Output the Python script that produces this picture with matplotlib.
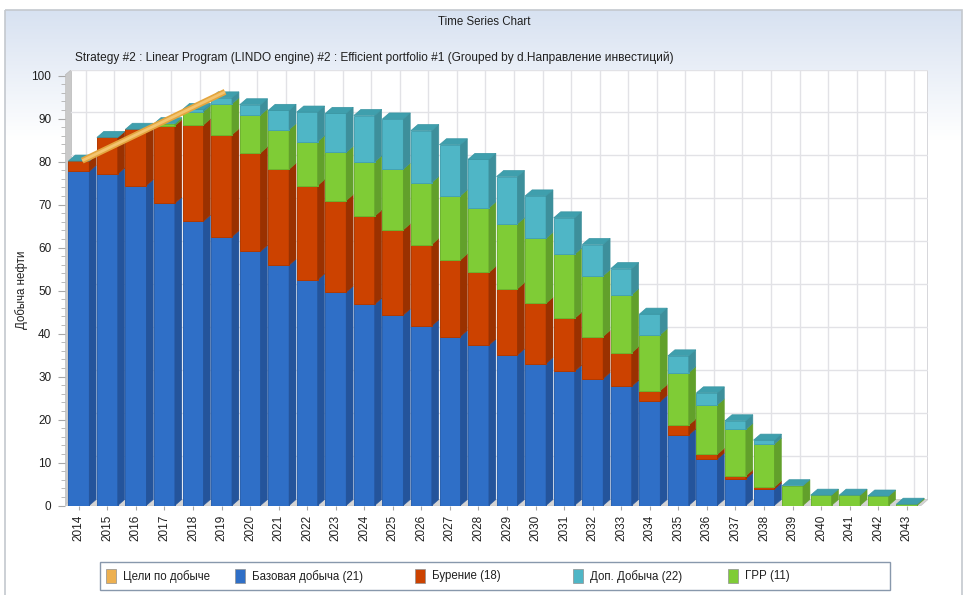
import matplotlib
matplotlib.use('Agg')
import matplotlib.pyplot as plt
from matplotlib.patches import Polygon, Rectangle
import numpy as np

plt.rcParams['font.family'] = ['Liberation Sans', 'DejaVu Sans']

# ---------------- data ----------------
years = list(range(2014, 2044))
base = [77.7, 77.1, 74.4, 70.3, 66.1, 62.5, 59.1, 55.9, 52.5, 49.6, 46.8, 44.3, 41.8, 39.3, 37.3,
        35.0, 33.0, 31.2, 29.5, 27.7, 24.2, 16.4, 10.8, 6.2, 3.8, 0, 0, 0, 0, 0]
drilling = [2.4, 8.5, 13.1, 18.0, 22.4, 23.7, 22.9, 22.3, 21.9, 21.3, 20.5, 19.8, 18.9, 17.8, 16.9,
            15.4, 14.0, 12.3, 9.8, 7.8, 2.5, 2.3, 1.1, 0.7, 0.5, 0, 0, 0, 0, 0]
grr = [0, 0, 0, 0.5, 3.1, 7.2, 8.8, 9.2, 10.2, 11.2, 12.6, 14.1, 14.4, 14.9, 15.0,
       15.1, 15.1, 14.9, 14.1, 13.5, 13.0, 12.2, 11.5, 10.8, 10.0, 4.6, 2.4, 2.4, 2.2, 0.3]
dop = [0, 0, 0, 0, 0.5, 1.4, 2.4, 4.5, 6.9, 9.1, 10.8, 11.7, 12.1, 11.9, 11.3,
       11.0, 9.9, 8.5, 7.3, 6.1, 4.8, 3.9, 2.8, 2.0, 0.9, 0, 0, 0, 0, 0]
goal_years = [2014, 2015, 2016, 2017, 2018, 2019]
goal = [79.5, 82.7, 85.9, 89.1, 92.3, 95.5]

legend_labels = ['Цели по добыче', 'Базовая добыча (21)', 'Бурение (18)', 'Доп. Добыча (22)', 'ГРР (11)']
title = 'Time Series Chart'
subtitle = 'Strategy #2 : Linear Program (LINDO engine) #2 : Efficient portfolio #1 (Grouped by d.Направление инвестиций)'
ylabel = 'Добыча нефти'

# colours: front, side, edge
C_BLUE = ('#2F6FC7', '#24549B', '#2A62B0')
C_RED = ('#CC4200', '#9A3100', '#B33A00')
C_GREEN = ('#7FCC36', '#62A02B', '#6DB42E')
C_CYAN = ('#4FB6C6', '#3D8F9B', '#45A3B2')
CAP = '#3F9FAD'
GOAL = '#EDB050'

W, H = 966, 595
fig = plt.figure(figsize=(W / 100, H / 100), dpi=100)

def fx(px):
    return px / W

def fy(py):
    return 1 - py / H

# ---------------- background panel ----------------
bg = fig.add_axes([0, 0, 1, 1], zorder=-10)
bg.set_xlim(0, W)
bg.set_ylim(H, 0)
bg.axis('off')
rows = np.linspace(0, 1, 300)[:, None]
top_c = np.array([0.845, 0.885, 0.945])
grad = np.clip(rows / 0.22, 0, 1)
img = top_c[None, None, :] * (1 - grad[..., None]) + np.ones(3)[None, None, :] * grad[..., None]
img = np.repeat(img, 2, axis=1)
bg.imshow(img, extent=[5, 962, 595, 10], aspect='auto', interpolation='bilinear')
bg.add_patch(Rectangle((5, 10), 957, 590, fill=False, edgecolor='#C4C8CE', lw=1.2))

# ---------------- main axes ----------------
DX = 0.245
DY = 1.4
BW = 0.73
x = np.arange(len(years))
xl, xr = -0.5, len(years) - 0.5

ax = fig.add_axes([fx(64.5), fy(505.5), fx(928) - fx(64.5), fy(69.5) - fy(505.5)])
ax.set_facecolor('none')
ax.set_xlim(xl, xr + DX)
ax.set_ylim(0, 100 + DY)
for s in ax.spines.values():
    s.set_visible(False)

# back wall
ax.add_patch(Polygon([(xl + DX, DY), (xr + DX, DY), (xr + DX, 100 + DY), (xl + DX, 100 + DY)],
                     closed=True, facecolor='white', edgecolor='none', zorder=0))
ax.plot([xr + DX, xr + DX], [DY, 100 + DY], color='#D0D0D4', lw=1.2, zorder=1)
# left wall
ax.add_patch(Polygon([(xl, 0), (xl + DX, DY), (xl + DX, 100 + DY), (xl, 100)],
                     closed=True, facecolor='#C9C9C9', edgecolor='#B8B8B8', lw=0.5, zorder=1))
# floor
ax.add_patch(Polygon([(xl, 0), (xr, 0), (xr + DX, DY), (xl + DX, DY)],
                     closed=True, facecolor='#D4D4D4', edgecolor='#C4C4C4', lw=0.5, zorder=1))
# grid on back wall
for v in range(10, 101, 10):
    ax.plot([xl + DX, xr + DX], [v + DY, v + DY], color='#E2E2E6', lw=1.0, zorder=1)
for i in x:
    ax.plot([i + DX, i + DX], [DY, 100 + DY], color='#E2E2E6', lw=1.0, zorder=1)

# stacked 3D bars
bottoms = np.zeros(len(years))
for vals, (front, side, edge) in [(base, C_BLUE), (drilling, C_RED), (grr, C_GREEN), (dop, C_CYAN)]:
    vals = np.array(vals, dtype=float)
    m = vals > 0
    ax.bar(x[m], vals[m], BW, bottom=bottoms[m], color=front, edgecolor=edge, linewidth=0.7, zorder=3)
    for i in x[m]:
        b, t = bottoms[i], bottoms[i] + vals[i]
        x1 = i + BW / 2
        ax.add_patch(Polygon([(x1, b), (x1 + DX, b + DY), (x1 + DX, t + DY), (x1, t)],
                             closed=True, facecolor=side, edgecolor=side, lw=0.4, zorder=3))
    bottoms = bottoms + vals

for i in x:
    t = bottoms[i]
    x0, x1 = i - BW / 2, i + BW / 2
    ax.add_patch(Polygon([(x0, t), (x0 + DX, t + DY), (x1 + DX, t + DY), (x1, t)],
                         closed=True, facecolor=CAP, edgecolor='#3A96A3', lw=0.5, zorder=4))

# goal line
gx = np.array([years.index(yv) for yv in goal_years]) + DX / 2
gy = np.array(goal) + DY / 2
ax.plot(gx, gy, color='#E4A53E', lw=4.4, solid_capstyle='butt', zorder=6)
ax.plot(gx, gy, color='#F3C470', lw=2.0, solid_capstyle='butt', zorder=7)

# ticks
ax.set_yticks(range(0, 101, 10))
ax.set_yticks(range(0, 101, 2), minor=True)
ax.tick_params(axis='y', which='major', length=5, width=0.8, color='#A8A8A8', pad=4.5,
               labelsize=8.5, labelcolor='#202020')
ax.tick_params(axis='y', which='minor', length=3, width=0.6, color='#B0B0B0')
ax.set_xticks(x)
ax.set_xticklabels([str(yv) for yv in years], rotation=90)
ax.tick_params(axis='x', which='major', length=3, width=0.8, color='#A8A8A8', pad=3.5,
               labelsize=8.5, labelcolor='#202020')

# texts
fig.text(fx(484), fy(22), title, ha='center', va='center', fontsize=8.3, color='#202020')
fig.text(fx(75), fy(58), subtitle, ha='left', va='center', fontsize=8.55, color='#202020')
fig.text(fx(22), fy(290), ylabel, ha='center', va='center', rotation=90, fontsize=8.3, color='#202020')

# legend
bg.add_patch(Rectangle((100, 562), 790, 28, facecolor='white', edgecolor='#8898AC', lw=1.0, zorder=2))
leg_colors = [GOAL, C_BLUE[0], C_RED[0], C_CYAN[0], C_GREEN[0]]
leg_x = [106, 235, 415, 573, 728]
for lx, lc, lab in zip(leg_x, leg_colors, legend_labels):
    bg.add_patch(Rectangle((lx, 569), 10, 14, facecolor=lc, edgecolor='#909090', lw=0.5, zorder=3))
    bg.text(lx + 17, 576.5, lab, ha='left', va='center', fontsize=8.3, color='#202020', zorder=4)

fig.savefig('out.png', dpi=100)
